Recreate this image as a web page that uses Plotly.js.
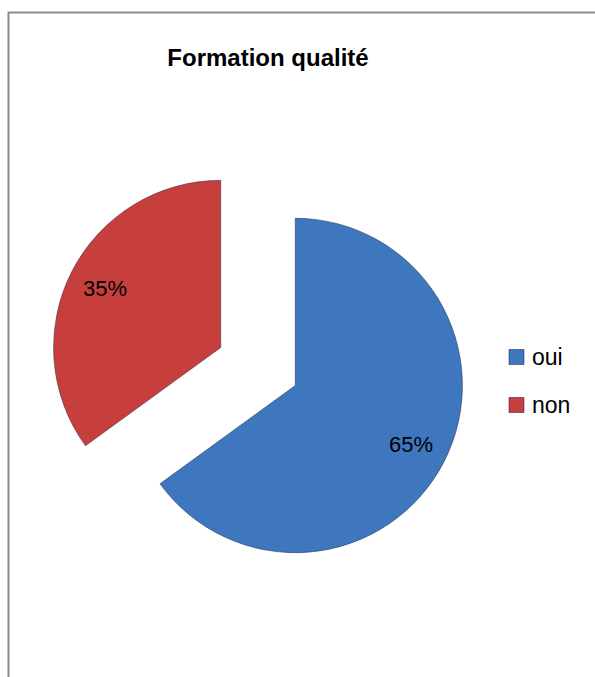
<!DOCTYPE html>
<html>
<head>
<meta charset="utf-8">
<script src="https://cdn.plot.ly/plotly-3.0.1.min.js"></script>
<style>html,body{margin:0;padding:0;background:#fff;}#chart{width:595px;height:677px;}</style>
</head>
<body>
<div id="chart"></div>
<script>
const chartTitle = "Formation qualité";
const labels = ["oui", "non"];
const values = [65, 35];
const colors = ["#3f77bf", "#c73f3c"];

const W = 595, H = 677;
// pie geometry (pixels)
const cx = 258, cy = 366.5, D = 418, PULL = 0.25;
const dom = {
  x: [(cx - D/2)/W, (cx + D/2)/W],
  y: [1 - (cy + D/2)/H, 1 - (cy - D/2)/H]
};
const FONT = "Liberation Sans, Arial, sans-serif";

const trace = {
  type: "pie",
  labels: labels,
  values: values,
  sort: false,
  direction: "clockwise",
  rotation: 0,
  pull: labels.map(() => PULL),
  marker: {colors: colors, line: {color: "rgba(20,30,60,0.45)", width: 1}},
  textinfo: "none",
  domain: dom,
  showlegend: false,
  hoverinfo: "label+percent"
};

const shapes = [{
  type: "rect", xref: "paper", yref: "paper",
  x0: 8.5/W, x1: 1.2, y0: -0.2, y1: 1 - 12.5/H,
  line: {color: "#8c8c8c", width: 2}, fillcolor: "rgba(0,0,0,0)", layer: "below"
}];
const annotations = [];

// percentage labels placed along each slice's mid-angle
const total = values.reduce((a, b) => a + b, 0);
const r = D / 2 / (1 + PULL);
let cum = 0;
values.forEach((v, i) => {
  const mid = (cum + v / 2) / total * 2 * Math.PI;
  cum += v;
  const dist = PULL * r + 0.78 * r;
  const px = cx + dist * Math.sin(mid);
  const py = cy - dist * Math.cos(mid);
  annotations.push({
    xref: "paper", yref: "paper", x: px / W, y: 1 - py / H,
    xanchor: "center", yanchor: "middle", showarrow: false,
    text: Math.round(v / total * 100) + "%",
    font: {family: FONT, size: 22, color: "#000"}
  });
});

// legend drawn from labels/colors
const legX = 509, legY0 = 357, legStep = 48, box = 15;
labels.forEach((lab, i) => {
  const yc = legY0 + i*legStep;
  shapes.push({
    type: "rect", xref: "paper", yref: "paper",
    x0: legX/W, x1: (legX+box)/W,
    y0: 1 - (yc + box/2)/H, y1: 1 - (yc - box/2)/H,
    fillcolor: colors[i], line: {color: "rgba(20,30,60,0.5)", width: 1}
  });
  annotations.push({
    xref: "paper", yref: "paper", x: (legX + box + 6)/W, y: 1 - yc/H,
    xanchor: "left", yanchor: "middle", showarrow: false, text: lab,
    font: {family: FONT, size: 23, color: "#000"}
  });
});

const layout = {
  width: W, height: H,
  margin: {l: 0, r: 0, t: 0, b: 0},
  paper_bgcolor: "#fff",
  title: {
    text: "<b>" + chartTitle + "</b>",
    x: 268/W, xanchor: "center", y: 1 - 58/H, yanchor: "middle",
    font: {family: FONT, size: 24, color: "#000"}
  },
  showlegend: false,
  shapes: shapes,
  annotations: annotations
};

Plotly.newPlot("chart", [trace], layout, {displayModeBar: false, staticPlot: true});
</script>
</body>
</html>
